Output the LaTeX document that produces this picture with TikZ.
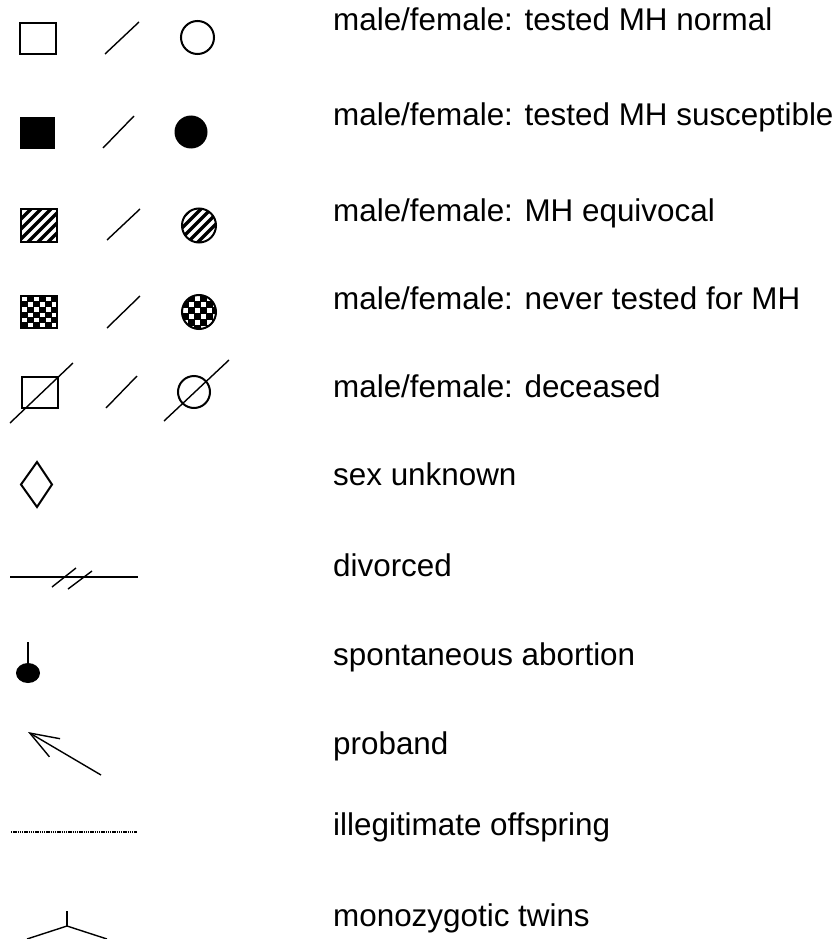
\documentclass[tikz,border=0pt]{standalone}
\usepackage{fontspec}
\setmainfont{Liberation Sans}
\usepackage{tikz}
\usetikzlibrary{arrows.meta}

\tikzset{
  lbl/.style={anchor=base west, inner sep=0pt, font=\fontsize{31.4}{37}\selectfont},
  outline/.style={line width=2pt},
  slash/.style={line width=1.4pt},
  hatchline/.style={line width=3.4pt}
}

\begin{document}
\begin{tikzpicture}[x=1pt,y=-1pt]
\useasboundingbox (0,0) rectangle (834,939);

% Row 1: tested normal
\draw[outline] (20,23) rectangle (56,54);
\draw[slash] (105,54) -- (139,22);
\draw[outline] (197.5,37.5) circle (16.5);
\node[lbl] (normal) at (333,31) {male/female: tested MH normal};

% Row 2: tested susceptible
\fill (20,117) rectangle (55,149);
\draw[slash] (103,148) -- (134,116);
\fill (191,132) circle (16.5);
\node[lbl] (suscep) at (333,126) {male/female: tested MH susceptible};

% Row 3: equivocal (hatched)
\begin{scope}
  \clip (21,209) rectangle (57,242);
  \foreach \k in {-30,-20,...,60} \draw[hatchline] (\k,250) -- (\k+50,200);
\end{scope}
\draw[outline] (21,209) rectangle (57,242);
\draw[slash] (107,240) -- (140,209);
\begin{scope}
  \clip (199,225.5) circle (17);
  \foreach \k in {150,160,...,240} \draw[hatchline] (\k,250) -- (\k+50,200);
\end{scope}
\draw[outline] (199,225.5) circle (17);
\node[lbl] (equiv) at (333,221) {male/female: MH equivocal};

% Row 4: never tested (checker)
\fill (21,296) rectangle (57,328);
\foreach \i in {0,2,4} {
  \foreach \j in {0,2,4} {
    \fill[white] (21+6*\i+0.8,296+5.3*\j+0.8) rectangle ++(5,4.4);
    \fill[white] (21+6*\i+6.8,296+5.3*\j+6.1) rectangle ++(5,4.4);
  }
}
\draw[outline] (21,296) rectangle (57,328);
\draw[slash] (107,328) -- (140,296);
\begin{scope}
  \clip (199,312) circle (17);
  \fill (180,294) rectangle (218,330);
  \foreach \i in {0,2,4} {
    \foreach \j in {0,2,4} {
      \fill[white] (182+6*\i+0.8,295+6*\j+0.8) rectangle ++(5,5);
      \fill[white] (182+6*\i+6.8,295+6*\j+6.8) rectangle ++(5,5);
    }
  }
\end{scope}
\draw[outline] (199,312) circle (17);
\node[lbl] (never) at (333,309) {male/female: never tested for MH};

% Row 5: deceased
\draw[outline] (22,377) rectangle (58,408);
\draw[slash] (10,423) -- (73,363);
\draw[slash] (106,408) -- (137,376);
\draw[outline] (194,392) circle (16);
\draw[slash] (164,421) -- (229,360);
\node[lbl] (dead) at (333,397) {male/female: deceased};

% Row 6: sex unknown
\draw[outline, line join=miter] (37,462) -- (52,484.5) -- (37,507) -- (21,484.5) -- cycle;
\node[lbl] (unknown) at (333,485) {sex unknown};

% Row 7: divorced
\draw[slash] (10,577) -- (138,577);
\draw[slash] (52,587) -- (76,568);
\draw[slash] (68,589) -- (92,571);
\node[lbl] (divorced) at (333,576) {divorced};

% Row 8: spontaneous abortion
\draw[slash] (28,642) -- (28,664);
\fill (28,673) ellipse (12 and 10);
\node[lbl] (abort) at (333,665) {spontaneous abortion};

% Row 9: proband
\draw[slash, -{Straight Barb[length=29pt,width=21pt]}] (101,775) -- (28,732);
\node[lbl] (proband) at (333,754) {proband};

% Row 10: illegitimate offspring
\draw[line width=1.6pt, dash pattern=on 1.3pt off 0.9pt] (11,832) -- (137,832);
\node[lbl] (illeg) at (333,835) {illegitimate offspring};

% Row 11: monozygotic twins
\draw[slash] (67,911) -- (67,926);
\draw[slash] (27,939) -- (67,926) -- (107,939);
\node[lbl] (twins) at (333,926) {monozygotic twins};
\end{tikzpicture}
\end{document}
